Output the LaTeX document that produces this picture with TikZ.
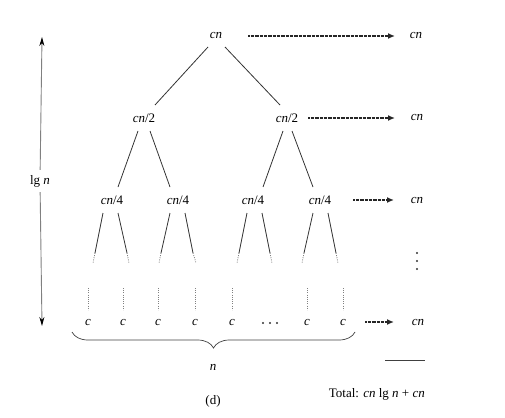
\documentclass[tikz,border=0pt]{standalone}
\usepackage{fontspec}
\setmainfont{Liberation Serif}
\usetikzlibrary{arrows.meta,decorations.pathreplacing,calc}
\begin{document}
\begin{tikzpicture}[x=1pt,y=-1pt,
  lab/.style={inner sep=2pt, font=\fontsize{13}{15}\selectfont},
  edge/.style={line width=0.8pt, black!80},
  fade/.style={line width=0.8pt, gray, dash pattern=on 0.9pt off 1.3pt},
  cost/.style={line width=1.6pt, black!85, dash pattern=on 0.7pt off 0.6pt, -{Latex[length=7pt,width=6pt]}},
  vert/.style={line width=0.9pt, gray, -{Stealth[length=9pt,width=5pt,black]}},
  bracestyle/.style={line width=0.7pt, black!75, decorate, decoration={brace, mirror, amplitude=16pt}},
  dotmark/.style={fill=black!80, draw=none},
]
\useasboundingbox (0,0) rectangle (505,417);
% tree nodes
\node[lab] (root) at (216,36) {\textit{cn}};
\node[lab] (a) at (144,118) {\textit{cn}/2};
\node[lab] (b) at (287,118) {\textit{cn}/2};
\node[lab] (c1) at (112,200) {\textit{cn}/4};
\node[lab] (c2) at (178,200) {\textit{cn}/4};
\node[lab] (c3) at (253,200) {\textit{cn}/4};
\node[lab] (c4) at (320,200) {\textit{cn}/4};
% leaves
\node[lab] (l1) at (88,322) {\textit{c}};
\node[lab] (l2) at (123,322) {\textit{c}};
\node[lab] (l3) at (158,322) {\textit{c}};
\node[lab] (l4) at (195,322) {\textit{c}};
\node[lab] (l5) at (232,322) {\textit{c}};
\coordinate (ld) at (270,323);
\fill[dotmark] ($(ld)+(-7,0)$) circle (1.2) (ld) circle (1.2) ($(ld)+(7,0)$) circle (1.2);
\node[lab] (l6) at (307,322) {\textit{c}};
\node[lab] (l7) at (343,322) {\textit{c}};
% right column
\node[lab] (r0) at (416,36) {\textit{cn}};
\node[lab] (r1) at (417,118) {\textit{cn}};
\node[lab] (r2) at (417,200) {\textit{cn}};
\node[lab] (r3) at (418,322) {\textit{cn}};
\coordinate (rv) at (417,261);
\fill[dotmark] ($(rv)+(0,-8)$) circle (1.2) (rv) circle (1.2) ($(rv)+(0,8)$) circle (1.2);
% cost arrows
\coordinate (t0) at (395,36);
\coordinate (t1) at (395,118);
\coordinate (t2) at (394,200);
\coordinate (t3) at (394,322);
\draw[cost] ([xshift=32]root.center) -- (t0);
\draw[cost] ([xshift=21]b.center) -- (t1);
\draw[cost] ([xshift=33]c4.center) -- (t2);
\draw[cost] ([xshift=22]l7.center) -- (t3);
% tree edges
\draw[edge] ([xshift=-8,yshift=-11]root.center) -- ([xshift=11,yshift=13]a.center);
\draw[edge] ([xshift=9,yshift=-11]root.center) -- ([xshift=-7,yshift=13]b.center);
\draw[edge] ([xshift=-6,yshift=-13]a.center) -- ([xshift=6,yshift=13]c1.center);
\draw[edge] ([xshift=6,yshift=-13]a.center) -- ([xshift=-8,yshift=13]c2.center);
\draw[edge] ([xshift=-4,yshift=-13]b.center) -- ([xshift=10,yshift=13]c3.center);
\draw[edge] ([xshift=5,yshift=-13]b.center) -- ([xshift=-7,yshift=13]c4.center);
% level-2 branches: solid then faded
\coordinate (e1a) at (95,253); \coordinate (f1a) at (93,263);
\coordinate (e1b) at (127,253); \coordinate (f1b) at (129,263);
\coordinate (e2a) at (161,253); \coordinate (f2a) at (159,263);
\coordinate (e2b) at (193,253); \coordinate (f2b) at (196,263);
\coordinate (e3a) at (239,253); \coordinate (f3a) at (237,263);
\coordinate (e3b) at (270,253); \coordinate (f3b) at (272,263);
\coordinate (e4a) at (304,253); \coordinate (f4a) at (302,263);
\coordinate (e4b) at (336,253); \coordinate (f4b) at (338,263);
\draw[edge] ([xshift=-9,yshift=-13]c1.center) -- (e1a);
\draw[edge] ([xshift=6,yshift=-13]c1.center) -- (e1b);
\draw[edge] ([xshift=-8,yshift=-13]c2.center) -- (e2a);
\draw[edge] ([xshift=7,yshift=-13]c2.center) -- (e2b);
\draw[edge] ([xshift=-6,yshift=-13]c3.center) -- (e3a);
\draw[edge] ([xshift=9,yshift=-13]c3.center) -- (e3b);
\draw[edge] ([xshift=-7,yshift=-13]c4.center) -- (e4a);
\draw[edge] ([xshift=8,yshift=-13]c4.center) -- (e4b);
\foreach \i in {1a,1b,2a,2b,3a,3b,4a,4b}{\draw[fade] (e\i) -- (f\i);}
% dotted lines above leaves
\foreach \l in {l1,l2,l3,l4,l5,l6,l7}{\draw[fade] ([yshift=34]\l.center) -- ([yshift=12]\l.center);}
% lg n arrow
\node[lab, inner sep=5pt] (lgn) at (40,181) {lg \textit{n}};
\coordinate (vtop) at (42,37);
\coordinate (vbot) at (42,326);
\draw[vert] (lgn) -- (vtop);
\draw[vert] (lgn) -- (vbot);
% brace
\coordinate (bl) at (72,332);
\coordinate (br) at (355,332);
\draw[bracestyle] (bl) -- (br);
\node[lab] (n) at (213,367) {\textit{n}};
\node[lab] (d) at (213,401) {(d)};
% total
\coordinate (hl) at (385,360);
\coordinate (hr) at (425,360);
\draw[line width=0.7pt, black!75] (hl) -- (hr);
\node[lab, anchor=east] (tot) at (427,394) {Total: \textit{cn} lg \textit{n} + \textit{cn}};
\end{tikzpicture}
\end{document}
